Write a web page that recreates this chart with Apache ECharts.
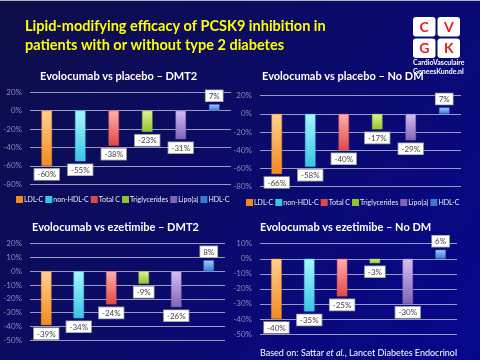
<!DOCTYPE html>
<html><head><meta charset="utf-8">
<script src="https://cdn.jsdelivr.net/npm/echarts@6/dist/echarts.min.js"></script>
<style>html,body{margin:0;padding:0;background:#0a0a60;}#c{width:480px;height:360px;}</style>
</head><body><div id="c"></div>
<script>
const categories = ['LDL-C','non-HDL-C','Total C','Triglycerides','Lipo(a)','HDL-C'];
const placeboDMT2 = [-60,-55,-38,-23,-31,7];
const placeboNoDM = [-66,-58,-40,-17,-29,7];
const ezetimibeDMT2 = [-39,-34,-24,-9,-26,8];
const ezetimibeNoDM = [-40,-35,-25,-3,-30,6];
const panelValues = [placeboDMT2, placeboNoDM, ezetimibeDMT2, ezetimibeNoDM];
const panelTitles = ['Evolocumab vs placebo – DMT2','Evolocumab vs placebo – No DM','Evolocumab vs ezetimibe – DMT2','Evolocumab vs ezetimibe – No DM'];
const yMins = [-80,-80,-50,-50];
const yMaxs = [20,20,20,10];
const yIntervals = [20,20,10,10];
const mainTitle = 'Lipid-modifying efficacy of PCSK9 inhibition in\npatients with or without type 2 diabetes';

const FONT = 'Lato, "Open Sans", sans-serif';
const barColors = [
  ['#ffd090','#f28a1e'],
  ['#a8f6ff','#38c4e4'],
  ['#ffb0b0','#e04848'],
  ['#e0f490','#92c22e'],
  ['#d4c0f4','#8262b4'],
  ['#a8ccff','#3a78d0']
];
function grad(c){
  return new echarts.graphic.LinearGradient(0,0,0,1,[{offset:0,color:c[0]},{offset:1,color:c[1]}]);
}
const grids = [
  {left:30, top:92.3, width:201, height:92},
  {left:260, top:95.7, width:201, height:91},
  {left:30, top:243.7, width:195, height:96.6},
  {left:260, top:243.7, width:197, height:90.3}
];
const titlePos = [[35,66],[257,66],[27,217],[255,217]];

const xAxes = [], yAxes = [], series = [], titles = [];
titles.push({text: mainTitle, left: 20, top: 12, textStyle:{color:'#ffff00', fontSize:14.5, fontWeight:'bold', fontFamily:FONT, lineHeight:19}});
for (let p=0;p<4;p++){
  titles.push({text: panelTitles[p], left: titlePos[p][0], top: titlePos[p][1], textStyle:{color:'#ffffff', fontSize:11, fontWeight:'bold', fontFamily:FONT}});
  xAxes.push({type:'category', gridIndex:p, data:categories, axisLine:{show:false}, axisTick:{show:false}, axisLabel:{show:false}, splitLine:{show:false}});
  yAxes.push({type:'value', gridIndex:p, min:yMins[p], max:yMaxs[p], interval:yIntervals[p],
    axisLine:{show:false}, axisTick:{show:false},
    axisLabel:{formatter:'{value}%', color:'#8a8ab8', fontSize:8, fontFamily:FONT, margin:8},
    splitLine:{lineStyle:{color:'#9a9ac0', width:1}}});
  const vals = panelValues[p];
  for (let i=0;i<categories.length;i++){
    const data = categories.map((c,j)=>{
      if (j!==i) return '-';
      const v = vals[i];
      return {value:v, label:{position: v<0 ? 'bottom':'top'}};
    });
    series.push({
      type:'bar', name:categories[i], xAxisIndex:p, yAxisIndex:p, data:data,
      barWidth:10.5, barGap:'-100%',
      itemStyle:{color:grad(barColors[i]), borderColor:barColors[i][1], borderWidth:0.5},
      label:{show:true, formatter:'{c}%', color:'#444', fontSize:8, fontFamily:FONT,
        backgroundColor:'#ffffff', borderColor:'#999999', borderWidth:0.8, padding:[2,3,1,3], distance:3},
      emphasis:{disabled:true}, animation:false
    });
  }
}
const legendCommon = {data:categories.map((c,i)=>({name:c, itemStyle:{color:barColors[i][1]}})), icon:'rect', itemWidth:5, itemHeight:5, itemGap:2,
  width:300, orient:'horizontal', padding:0,
  textStyle:{color:'#ececec', fontSize:7, fontFamily:FONT, padding:[0,0,0,-3]}, selectedMode:false};
const option = {
  backgroundColor: new echarts.graphic.LinearGradient(0,0,1,1,[{offset:0,color:'#0e0e48'},{offset:1,color:'#07078e'}]),
  animation:false,
  title: titles,
  grid: grids,
  xAxis: xAxes,
  yAxis: yAxes,
  legend: [
    Object.assign({left:16, top:196}, legendCommon),
    Object.assign({left:246, top:199}, legendCommon)
  ],
  series: series,
  graphic: [
    {type:'rect', left:0, top:0, shape:{width:480, height:1}, style:{fill:'#b0b0c0'}},
    {type:'group', left:413, top:17, children:[
      {type:'rect', shape:{x:0,y:0,width:22.5,height:19.5,r:3}, style:{fill:'#ffffff'}},
      {type:'rect', shape:{x:24.5,y:0,width:22.5,height:19.5,r:3}, style:{fill:'#ffffff'}},
      {type:'rect', shape:{x:0,y:21.5,width:22.5,height:19.5,r:3}, style:{fill:'#ffffff'}},
      {type:'rect', shape:{x:24.5,y:21.5,width:22.5,height:19.5,r:3}, style:{fill:'#ffffff'}},
      {type:'text', style:{x:11.25,y:10,text:'C',fill:'#e02020',font:'bold 14px '+FONT,textAlign:'center',textVerticalAlign:'middle'}},
      {type:'text', style:{x:35.75,y:10,text:'V',fill:'#e02020',font:'bold 14px '+FONT,textAlign:'center',textVerticalAlign:'middle'}},
      {type:'text', style:{x:11.25,y:31.5,text:'G',fill:'#e02020',font:'bold 14px '+FONT,textAlign:'center',textVerticalAlign:'middle'}},
      {type:'text', style:{x:35.75,y:31.5,text:'K',fill:'#e02020',font:'bold 14px '+FONT,textAlign:'center',textVerticalAlign:'middle'}}
    ]},
    {type:'text', left:413, top:59, style:{text:'CardioVasculaire', fill:'#ffffff', font:'bold 7px '+FONT}},
    {type:'text', left:413, top:68, style:{text:'GeneesKunde.nl', fill:'#ffffff', font:'bold 7px '+FONT}},
    {type:'text', left:260, top:349, z:10, style:{
      text:'Based on: Sattar {i|et al.}, Lancet Diabetes Endocrinol',
      fill:'#ffffff', font:'9px '+FONT,
      rich:{i:{fontStyle:'italic', fontSize:9, fontFamily:FONT, fill:'#ffffff'}}}}
  ]
};
const chart = echarts.init(document.getElementById('c'), null, {renderer:'canvas'});
chart.setOption(option);
</script></body></html>
